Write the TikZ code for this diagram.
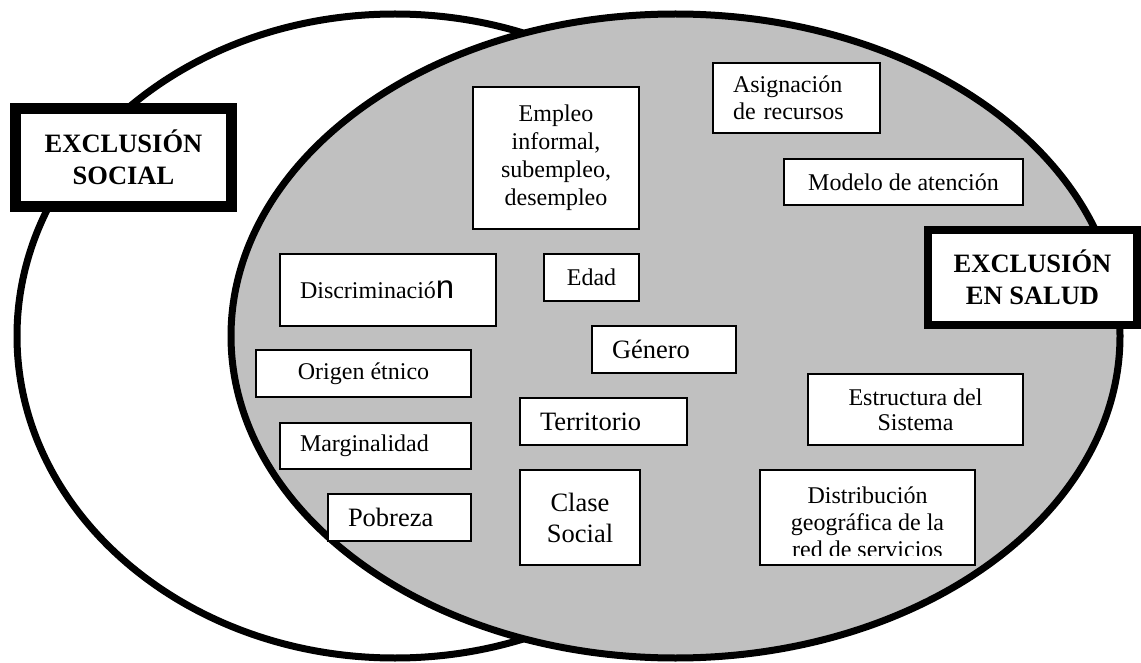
\documentclass[tikz,border=0pt]{standalone}
\usepackage{fontspec}
\setmainfont{Liberation Serif}
\newfontfamily\nsans{Liberation Sans}
\usepackage{tikz}
\usetikzlibrary{positioning}
\newcommand{\setfs}[2]{\fontsize{#1}{#2}\selectfont}
\definecolor{venn_grey}{HTML}{C0C0C0}
\tikzstyle{venn_line} = [draw, line width=7pt]
\tikzstyle{factor}    = [rectangle, draw, fill=white, line width=2pt, inner sep=0pt, align=center, text=black, font=\setfs{24}{27}]
\tikzstyle{factorbig} = [factor, font=\setfs{26.5}{31}]
\tikzstyle{excl}      = [rectangle, draw, fill=white, inner sep=0pt, align=center, text=black, font=\bfseries\setfs{26.5}{32}]

\begin{document}
\begin{tikzpicture}[x=1pt, y=-1pt]
   \useasboundingbox (0,0) rectangle (1141,663);

   % Venn
   \path [venn_line, fill=white] (395,336) ellipse [x radius=378pt, y radius=322pt];
   \path [venn_line, fill=venn_grey] (675.5,336) ellipse [x radius=444.5pt, y radius=322pt];

   % Titles
   \node at (123.5,157.5) [excl, line width=11pt, minimum width=216pt, minimum height=98pt] (social) {EXCLUSIÓN\\SOCIAL};
   \node at (1032.5,277.5) [excl, line width=8pt, minimum width=209pt, minimum height=95pt] (salud) {EXCLUSIÓN\\EN SALUD};

   % Social factors
   \node at (556,158) [factor, font=\setfs{24}{28}, minimum width=166pt, minimum height=142pt] (empleo) {Empleo\\informal,\\subempleo,\\desempleo};
   \node at (388,290) [factor, align=left, inner xsep=20pt, text width=176pt, minimum height=72pt] (discrim) {Discriminació{\nsans\setfs{33}{33}n}};
   \node at (591.5,277.5) [factor, minimum width=95pt, minimum height=47pt] (edad) {Edad};
   \node at (664,349.5) [factorbig, align=left, inner xsep=20pt, text width=104pt, minimum height=47pt] (genero) {Género};
   \node at (363.5,373.5) [factor, minimum width=215pt, minimum height=47pt] (origen) {Origen étnico};
   \node at (603.5,421.5) [factorbig, align=left, inner xsep=20pt, text width=127pt, minimum height=47pt] (territorio) {Territorio};
   \node at (375.5,446) [factor, align=left, inner xsep=20pt, text width=151pt, minimum height=46pt] (margin) {Marginalidad};
   \node at (399.5,517.5) [factorbig, align=left, inner xsep=20pt, text width=103pt, minimum height=47pt] (pobreza) {Pobreza};
   \node at (580,517.5) [factorbig, minimum width=120pt, minimum height=95pt] (clase) {Clase\\Social};

   % Health system factors
   \node at (796.5,98) [factor, align=left, inner xsep=20pt, text width=127pt, minimum height=70pt] (recursos) {Asignación\\de recursos};
   \node at (903.5,182) [factor, minimum width=239pt, minimum height=46pt] (modelo) {Modelo de atención};
   \node at (915.5,409.5) [factor, font=\setfs{24}{25}, minimum width=215pt, minimum height=71pt] (estructura) {Estructura del\\Sistema};
   \node at (867.5,517.5) [factor, minimum width=215pt, minimum height=95pt, path picture={
      \clip (path picture bounding box.north west) rectangle ([yshift=10pt]path picture bounding box.south east);
      \node [draw=none, fill=none, minimum width=0pt, minimum height=0pt, anchor=north, inner sep=0pt, align=center, font=\setfs{24}{27}] (red text) at ([yshift=-16pt]path picture bounding box.north) {Distribución\\geográfica de la\\red de servicios};
   }] (red) {};

\end{tikzpicture}
\end{document}
